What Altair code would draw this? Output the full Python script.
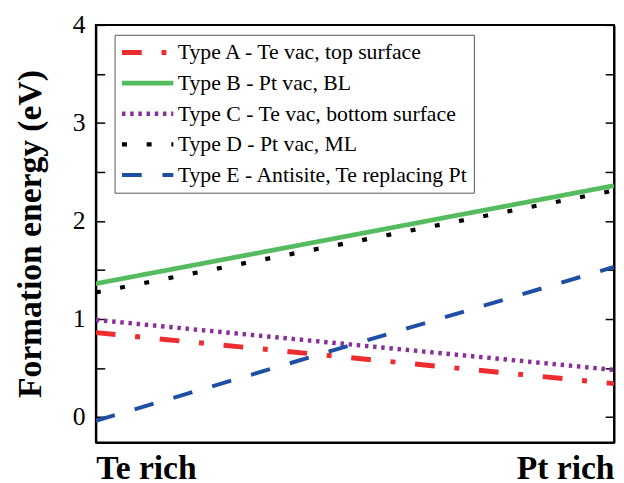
import altair as alt
import pandas as pd

series_names = [
    "Type A - Te vac, top surface",
    "Type B - Pt vac, BL",
    "Type C - Te vac, bottom surface",
    "Type D - Pt vac, ML",
    "Type E - Antisite, Te replacing Pt",
]
x_pos = [0, 1]
type_a = [0.86, 0.34]
type_b = [1.36, 2.36]
type_c = [0.99, 0.48]
type_d = [1.27, 2.31]
type_e = [-0.04, 1.53]
x_labels = ["Te rich", "Pt rich"]
y_ticks = [0, 0.5, 1, 1.5, 2, 2.5, 3, 3.5, 4]

colors = ["#ee2b2e", "#55bb5f", "#882f9a", "#000000", "#1f4fa5"]
dashes = [[20, 20, 5, 20], [1, 0], [3.5, 4.8], [5, 20], [20, 21]]
widths = [5, 4, 3.5, 4, 4.5]

rows = []
for name, vals in zip(series_names, [type_a, type_b, type_c, type_d, type_e]):
    for xv, yv in zip(x_pos, vals):
        rows.append({"x": xv, "y": yv, "series": name})
df = pd.DataFrame(rows)

FONT = "Liberation Serif"

legend = alt.Legend(
    orient="none", legendX=19, legendY=10, title=None,
    symbolType="stroke", symbolSize=2704,
    labelFont=FONT, labelFontSize=22, labelColor="black", labelLimit=0,
    labelOffset=2, strokeColor="#555555", fillColor="white",
    padding=5, rowPadding=5, clipHeight=26,
)

yscale = alt.Scale(domain=[-0.26, 4], nice=False, zero=False)

lines = alt.Chart(df).mark_line(clip=True).encode(
    x=alt.X("x:Q", scale=alt.Scale(domain=[0, 1], nice=False),
            axis=alt.Axis(values=x_pos, labelExpr="datum.value == 0 ? '%s' : '%s'" % tuple(x_labels),
                          labelFlush=True, ticks=False, grid=False, title=None,
                          labelFont=FONT, labelFontWeight="bold", labelFontSize=34,
                          labelColor="black", labelPadding=10,
                          domainColor="black", domainWidth=2)),
    y=alt.Y("y:Q", scale=yscale,
            axis=alt.Axis(values=y_ticks,
                          labelExpr="datum.value % 1 == 0 ? format(datum.value, 'd') : ''",
                          labelOverlap=False, grid=False, tickSize={"expr": "-9"},
                          tickColor="black", tickWidth=1.5, labelPadding=20,
                          labelFont=FONT, labelFontSize=26, labelColor="black",
                          title="Formation energy (eV)", titleFont=FONT, titleFontSize=34,
                          titleFontWeight="bold", titleColor="black", titlePadding=25,
                          domainColor="black", domainWidth=2)),
    color=alt.Color("series:N", scale=alt.Scale(domain=series_names, range=colors), legend=legend),
    strokeDash=alt.StrokeDash("series:N", scale=alt.Scale(domain=series_names, range=dashes), legend=legend),
    strokeWidth=alt.StrokeWidth("series:N", scale=alt.Scale(domain=series_names, range=widths), legend=legend),
)

right = alt.Chart(df).mark_point(opacity=0).encode(
    y=alt.Y("y:Q", scale=yscale,
            axis=alt.Axis(orient="right", values=y_ticks, labels=False, grid=False,
                          tickSize={"expr": "-9"}, tickColor="black", tickWidth=1.5,
                          title=None, domainColor="black", domainWidth=2)),
)

chart = alt.layer(lines, right).resolve_axis(y="independent").properties(
    width=525, height=423,
    autosize=alt.AutoSizeParams(type="none"),
    padding={"left": 89, "top": 14, "right": 2, "bottom": 38},
).configure_view(stroke="black", strokeWidth=2)

chart.save("out.html", embed_options={"renderer": "svg", "actions": False})
